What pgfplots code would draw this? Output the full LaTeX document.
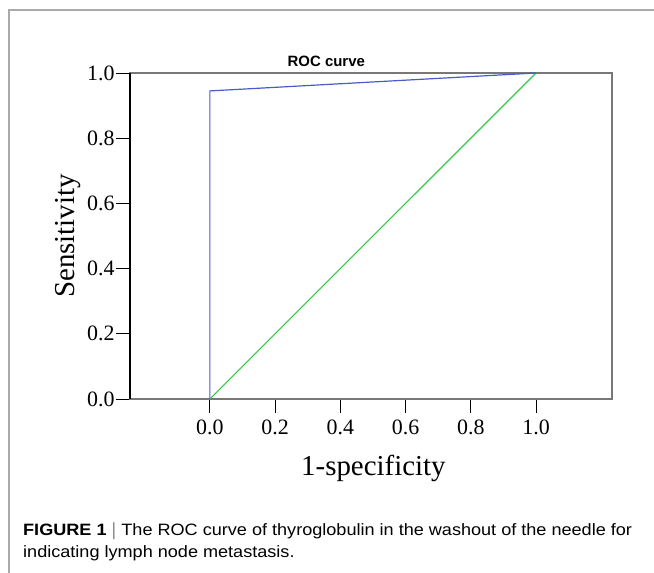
\documentclass[border=0pt]{standalone}
\usepackage{fontspec}
\setmainfont{Liberation Serif}
\newfontfamily\arialfont{Liberation Sans}
\newfontfamily\captionfont[FakeStretch=1.1]{Liberation Sans}
\usepackage{pgfplots}
\pgfplotsset{compat=1.18}
\definecolor{rocblue}{RGB}{72,92,200}
\definecolor{refgreen}{RGB}{52,200,72}
\definecolor{spinegray}{RGB}{120,120,120}
\definecolor{framegray}{RGB}{170,170,170}

\begin{document}
\begin{tikzpicture}[x=1bp,y=1bp]
% page frame of the figure panel
\useasboundingbox (-130,-174) rectangle (524,399);
\draw[framegray, line width=1.3bp] (-121,-180) -- (-121,389) -- (530,389);

\begin{axis}[
    at={(0,0)}, anchor=south west,
    scale only axis,
    width=482bp, height=326bp,
    xmin=-0.245, xmax=1.233,
    ymin=0, ymax=1,
    xtick={0,0.2,0.4,0.6,0.8,1.0},
    ytick={0,0.2,0.4,0.6,0.8,1.0},
    xtick pos=bottom, ytick pos=left,
    tick align=outside,
    major tick length=14bp,
    tick style={black, line width=0.9bp},
    axis line style={spinegray, line width=1.1bp},
    xticklabel style={font=\fontsize{22}{26}\selectfont, yshift=-3bp},
    yticklabel style={font=\fontsize{22}{26}\selectfont, xshift=2bp},
    /pgf/number format/assume math mode=true,
    /pgf/number format/fixed,
    /pgf/number format/fixed zerofill,
    /pgf/number format/precision=1,
    xlabel={1-specificity},
    ylabel={Sensitivity},
    xlabel style={font=\fontsize{29}{34}\selectfont, at={([yshift=-76bp]axis description cs:0.505,0)}, anchor=base},
    ylabel style={font=\fontsize{29}{34}\selectfont, at={([xshift=-55bp]axis description cs:0,0.5)}, anchor=base, rotate=0},
    clip=false,
]
\draw[black, line width=1.1bp] (rel axis cs:0,0) -- (rel axis cs:0,1);

% reference diagonal
\addplot[refgreen, line width=1.1bp] coordinates {(0,0) (1,1)};
% ROC curve
\addplot[rocblue, line width=1.2bp] coordinates {(0,0) (0,0.945) (1,1)};

\node[font=\arialfont\bfseries\fontsize{15}{18}\selectfont, anchor=base] at (axis cs:0.357,1.0) [yshift=6bp] {ROC curve};
\end{axis}

% figure caption
\node[anchor=base west, font=\captionfont\fontsize{16.5}{20}\selectfont, inner sep=0pt] at (-107,-136)
  {\textbf{FIGURE 1} $|$ The ROC curve of thyroglobulin in the washout of the needle for};
\node[anchor=base west, font=\captionfont\fontsize{16.5}{20}\selectfont, inner sep=0pt] at (-107,-158)
  {indicating lymph node metastasis.};
\end{tikzpicture}
\end{document}
